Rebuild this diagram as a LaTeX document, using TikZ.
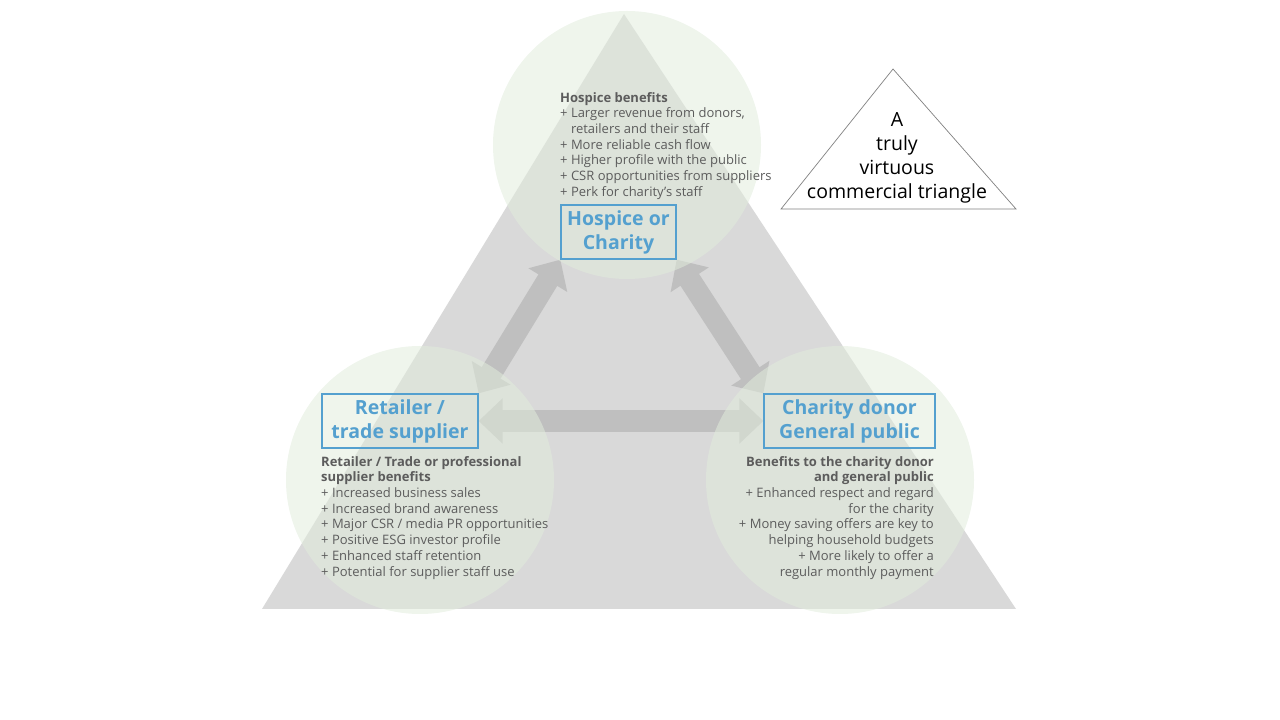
\documentclass[tikz,border=0pt]{standalone}
\usepackage{fontspec}
\setmainfont{Open Sans}
\usetikzlibrary{arrows.meta,positioning,backgrounds}

\definecolor{hubblue}{RGB}{84,160,207}
\definecolor{txtgray}{RGB}{92,92,92}
\definecolor{trigray}{RGB}{217,217,217}
\definecolor{arrgray}{RGB}{191,191,191}
\definecolor{zonegreen}{RGB}{225,236,220}

\begin{document}
\begin{tikzpicture}[x=1pt,y=1pt]

\tikzset{
  zone/.style = {fill=zonegreen, fill opacity=0.55},
  hub/.style  = {draw=hubblue, line width=1.3pt, text=hubblue, inner sep=0pt,
                 align=center, font=\fontsize{19.5}{24}\selectfont\bfseries},
  note/.style = {inner sep=0pt, text=txtgray, font=\fontsize{13}{15.7}\selectfont},
  link/.style = {<->, >={Triangle[length=24pt,width=44pt]}, line width=22pt,
                 draw=arrgray},
  motto/.style= {inner sep=0pt, align=center, font=\fontsize{19.5}{24}\selectfont},
}

\useasboundingbox (0,0) rectangle (1280,720);

\node[hub, minimum width=115pt, minimum height=54pt] (hos) at (618.5,488) {Hospice or\\Charity};
\node[hub, minimum width=156pt, minimum height=54pt] (ret) at (400,299) {Retailer /\\trade supplier};
\node[hub, minimum width=171pt, minimum height=54pt] (don) at (849.5,299) {Charity donor\\General public};

\node[note, anchor=north west, align=left] (hostxt) at (560,628) {\textbf{Hospice benefits}\\
+ Larger revenue from donors,\\\hphantom{+\ }retailers and their staff\\
+ More reliable cash flow\\+ Higher profile with the public\\
+ CSR opportunities from suppliers\\+ Perk for charity’s staff};
\node[note, anchor=north west, align=left] (rettxt) at (321,264) {\textbf{Retailer / Trade or professional}\\
\textbf{supplier benefits}\\+ Increased business sales\\+ Increased brand awareness\\
+ Major CSR / media PR opportunities\\+ Positive ESG investor profile\\
+ Enhanced staff retention\\+ Potential for supplier staff use};
\node[note, anchor=north east, align=right] (dontxt) at (934,264) {\textbf{Benefits to the charity donor}\\
\textbf{and general public}\\+ Enhanced respect and regard\\for the charity\\
+ Money saving offers are key to\\helping household budgets\\
+ More likely to offer a\\regular monthly payment};

% small legend triangle
\draw[black!50, line width=0.7pt, fill=white] (893,651) -- (1016,511) -- (781,511) -- cycle;
\node[motto] (title) at (897,562) {A\\truly\\virtuous\\commercial triangle};

\begin{scope}[on background layer]
\fill[trigray] (624,706) -- (1016,111) -- (262,111) -- cycle;
\draw[link] (ret.north east) -- (hos.south west);
\draw[link] (hos.south east) -- (don.north west);
\draw[link] (ret.east) -- (don.west);
\fill[zone] (627,575) circle (134);
\fill[zone] (420,240) circle (134);
\fill[zone] (840,240) circle (134);
\end{scope}
\end{tikzpicture}
\end{document}
